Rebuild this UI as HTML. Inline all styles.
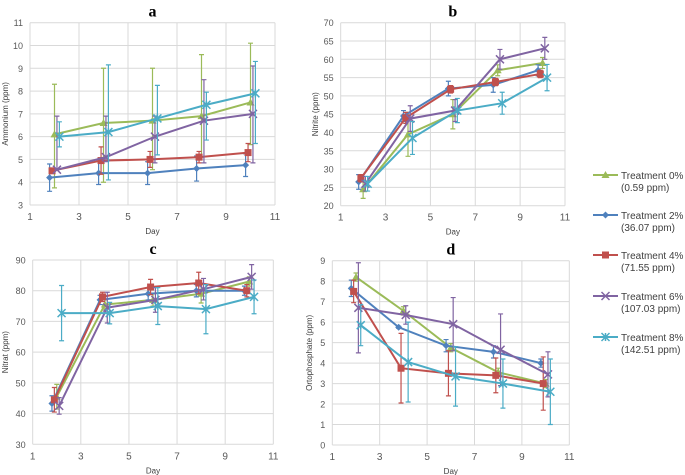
<!DOCTYPE html>
<html><head><meta charset="utf-8"><style>
body{margin:0;background:#fff;width:685px;height:475px;overflow:hidden;font-family:"Liberation Sans",sans-serif}
svg{display:block}
</style></head><body>
<svg id="chart" width="685" height="475"></svg>
<script>
const days=[2,4,6,8,10];
const seriesNames=["Treatment 0%","Treatment 2%","Treatment 4%","Treatment 6%","Treatment 8%"];
const seriesSub=["(0.59 ppm)","(36.07 ppm)","(71.55 ppm)","(107.03 ppm)","(142.51 ppm)"];
const colors=["#9BBB59","#4F81BD","#C0504D","#8064A2","#4BACC6"];
const offsets=[0,-0.2,-0.1,0.1,0.2];
// panel a: Ammonium
const aVals=[[6.1,6.6,6.7,6.9,7.5],[4.2,4.4,4.4,4.6,4.75],[4.5,4.95,5.0,5.1,5.3],[4.55,5.1,6.0,6.7,7.0],[6.0,6.2,6.8,7.4,7.9]];
const aErr=[[2.2,2.4,2.3,2.7,2.6],[0.6,0.5,0.5,0.55,0.5],[0.1,0.6,0.35,0.25,0.4],[2.35,1.8,0.9,1.8,2.1],[0.65,2.95,1.45,0.55,1.4]];
const aErrLow=[[2.35,2.6,2.15,1.8,1.85],[0.6,0.5,0.5,0.55,0.5],[0.1,0.6,0.35,0.25,0.4],[0,0.2,1.15,1.85,2.15],[0.45,2.1,1.6,1.55,2.2]];
// panel b: Nitrite
const bVals=[[24.5,39.5,45,57,59],[26.5,44.5,52,53,57],[27.5,44,51.8,53.8,56],[26,43.8,46,60,63],[26,38.5,46,48,55]];
const bErr=[[2.5,6,4,1.5,1.5],[2,1.5,2,2,1.5],[1,1.5,1,1,1],[2,3.5,3,2.7,3],[2,4.5,3.3,3,3.6]];
// panel c: Nitrat
const cVals=[[45.5,75.5,77,79,83],[43.3,77,79,80,80],[44.5,78,81.2,82.5,80],[42.5,74.5,77,80.5,84.5],[72.7,72.7,75,74,78]];
const cErr=[[4,1.5,2,3,1.5],[2.5,1.5,2,2,1.5],[4,1.5,2.5,3.5,2],[2.7,5,4,3.5,4],[9,3.5,6,8,5.5]];
// panel d: Ortophosphate
const dVals=[[8.2,6.55,4.75,3.55,3.0],[7.65,5.75,4.85,4.55,4.0],[7.5,3.75,3.5,3.4,3.0],[6.7,6.35,5.9,4.65,3.45],[5.85,4.05,3.35,3.0,2.6]];
const dErr=[[0.2,0.2,0.2,0.2,0.2],[0.4,0.05,0.3,0.3,0.2],[0.55,1.7,1.1,0.85,1.3],[2.2,0.45,1.3,1.75,1.1],[1,1.95,1.45,1.2,1.6]];
const xTicks=[1,3,5,7,9,11];
const aTicks=[3,4,5,6,7,8,9,10,11];
const bTicks=[20,25,30,35,40,45,50,55,60,65,70];
const cTicks=[30,40,50,60,70,80,90];
const dTicks=[0,1,2,3,4,5,6,7,8,9];

const NS="http://www.w3.org/2000/svg";
const svg=document.getElementById('chart');
function el(tag,attrs,parent,text){const e=document.createElementNS(NS,tag);for(const k in attrs)e.setAttribute(k,attrs[k]);if(text!==undefined)e.textContent=text;(parent||svg).appendChild(e);return e;}

function marker(g,i,x,y){
  const c=colors[i];
  if(i===0){el('polygon',{points:`${x},${y-4} ${x-4},${y+3} ${x+4},${y+3}`,fill:c},g);}
  else if(i===1){el('polygon',{points:`${x},${y-3.5} ${x+3.5},${y} ${x},${y+3.5} ${x-3.5},${y}`,fill:c},g);}
  else if(i===2){el('rect',{x:x-3.5,y:y-3.5,width:7,height:7,fill:c},g);}
  else if(i===3){el('path',{d:`M${x-4} ${y-4}L${x+4} ${y+4}M${x-4} ${y+4}L${x+4} ${y-4}`,stroke:c,'stroke-width':1.5},g);}
  else{el('path',{d:`M${x-4} ${y-4}L${x+4} ${y+4}M${x-4} ${y+4}L${x+4} ${y-4}M${x} ${y-4}L${x} ${y+4}`,stroke:c,'stroke-width':1.5},g);}
}

function panel(p){
  const g=el('g',{},svg);
  
  
  const ymin=p.ticks[0],ymax=p.ticks[p.ticks.length-1];
  const X=v=>p.L+(v-1)/10*(p.R-p.L);
  const Y=v=>p.B-(v-ymin)/(ymax-ymin)*(p.B-p.T);
  xTicks.forEach(t=>{
    el('line',{x1:X(t),x2:X(t),y1:p.T,y2:p.B,stroke:'#d9d9d9','stroke-width':1},g);
    const tx=el('text',{x:X(t),y:p.B+15,'font-size':10,fill:'#595959','text-anchor':'middle'},g,t);
    
    
  });
  p.ticks.forEach(t=>{
    el('line',{x1:p.L,x2:p.R,y1:Y(t),y2:Y(t),stroke:'#d9d9d9','stroke-width':1},g);
    const tx=el('text',{x:p.L-7,y:Y(t)+3.5,'font-size':9,fill:'#595959','text-anchor':'end'},g,t);
    
    
  });
  const tt=el('text',{x:(p.L+p.R)/2,y:p.T-6,'font-size':16,'font-weight':'bold','font-family':'Liberation Serif, serif','text-anchor':'middle'},g,p.id);
  
  
  const xl=el('text',{x:(p.L+p.R)/2,y:p.B+29,'font-size':8,fill:'#404040','text-anchor':'middle'},g,'Day');
  
  
  const cy=(p.T+p.B)/2;
  const yl=el('text',{x:p.yl,y:cy,'font-size':8,fill:'#404040','text-anchor':'middle',transform:`rotate(-90 ${p.yl} ${cy})`},g,p.ylabel);
  
  
  p.vals.forEach((vals,i)=>{
    const sg=el('g',{},g);
    
    
    const pts=vals.map((v,j)=>[X(days[j]+offsets[i]),Y(v)]);
    vals.forEach((v,j)=>{
      const x=pts[j][0],e=p.err[i][j],el2=p.errLow?p.errLow[i][j]:e;
      el('path',{d:`M${x} ${Y(v+e)}V${Y(v-el2)}M${x-2.5} ${Y(v+e)}h5M${x-2.5} ${Y(v-el2)}h5`,stroke:colors[i],'stroke-width':1.2,fill:'none'},sg);
    });
    el('polyline',{points:pts.map(q=>q.join(',')).join(' '),fill:'none',stroke:colors[i],'stroke-width':2},sg);
    pts.forEach(q=>marker(sg,i,q[0],q[1]));
  });
}
panel({id:'a',L:30,R:275,T:22.7,B:205,ticks:aTicks,vals:aVals,err:aErr,errLow:aErrLow,ylabel:'Ammonium (ppm)',yl:8});
panel({id:'b',L:340.7,R:565,T:22.7,B:205.7,ticks:bTicks,vals:bVals,err:bErr,ylabel:'Nitrite (ppm)',yl:318});
panel({id:'c',L:32.7,R:273.3,T:260,B:444.3,ticks:cTicks,vals:cVals,err:cErr,ylabel:'Nitrat (ppm)',yl:8});
panel({id:'d',L:332.3,R:569.3,T:260.7,B:445,ticks:dTicks,vals:dVals,err:dErr,ylabel:'Ortophosphate (ppm)',yl:312});

const lg=el('g',{},svg);


const legY=[175,215,255,296,337];
seriesNames.forEach((n,i)=>{
  const eg=el('g',{},lg);
  
  
  const y=legY[i];
  el('line',{x1:593,x2:618,y1:y,y2:y,stroke:colors[i],'stroke-width':2},eg);
  marker(eg,i,605.5,y);
  el('text',{x:621,y:y+4,'font-size':10,fill:'#404040'},eg,n);
  el('text',{x:621,y:y+16,'font-size':10,fill:'#404040'},eg,seriesSub[i]);
});
</script>
</body></html>
